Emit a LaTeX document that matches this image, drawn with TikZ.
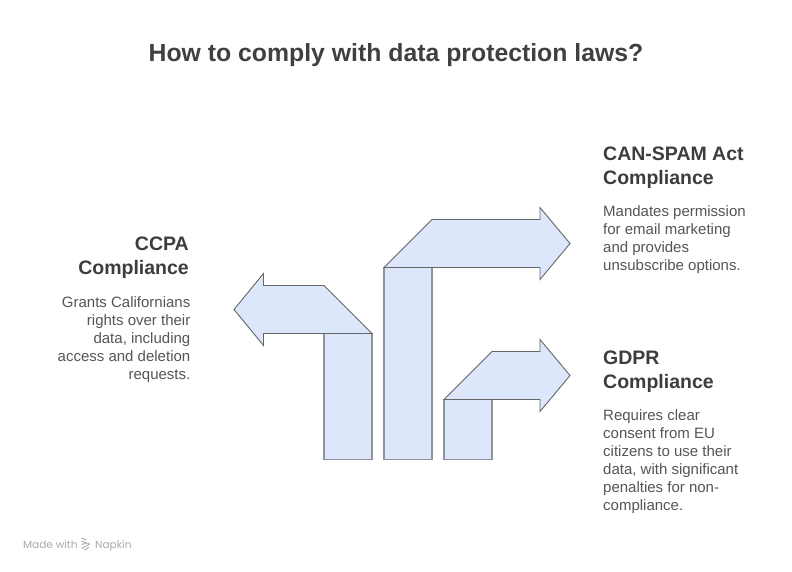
\documentclass[tikz,border=0pt]{standalone}
\usepackage{fontspec}
\setmainfont{Liberation Sans}
\newfontfamily\footfont{Poppins}
\definecolor{boxfill}{HTML}{DCE7FB}
\definecolor{arrowline}{HTML}{666666}
\definecolor{stemline}{HTML}{8E939C}
\definecolor{titlecol}{HTML}{404040}
\definecolor{headcol}{HTML}{3D3D3D}
\definecolor{bodycol}{HTML}{555555}
\definecolor{footcol}{HTML}{AAAAAA}
\begin{document}
\begin{tikzpicture}[x=1pt,y=-1pt,
  stembox/.style={fill=boxfill,draw=stemline,line width=1.4pt,line join=miter},
  arrowshape/.style={fill=boxfill,draw=arrowline,line width=0.9pt,line join=miter},
  titletext/.style={inner sep=0pt,text=titlecol,font=\bfseries\fontsize{24.8}{30}\selectfont},
  headtext/.style={inner sep=0pt,text=headcol,font=\bfseries\fontsize{19.5}{24}\selectfont},
  bodytext/.style={inner sep=0pt,text=bodycol,font=\fontsize{15}{18}\selectfont},
  foottext/.style={inner sep=0pt,text=footcol,font=\footfont\fontsize{10.5}{12}\selectfont}]
\useasboundingbox[fill=white] (0,0) rectangle (792,572);

% title
\node[titletext,anchor=base] (title) at (396,62) {How to comply with data protection laws?};

% stems
\draw[stembox] (324,333.5) rectangle (372,459.5);
\draw[stembox] (384,267.5) rectangle (432,459.5);
\draw[stembox] (444,399.5) rectangle (492,459.5);

% arrows
\draw[arrowshape] (372,333.5) -- (324,285.5) -- (263.5,285.5) -- (263.5,273.5) -- (234,309.5) -- (263.5,345.5) -- (263.5,333.5) -- cycle;
\draw[arrowshape] (384,267.5) -- (432,219.5) -- (540,219.5) -- (540,207.5) -- (570,243.5) -- (540,279.5) -- (540,267.5) -- cycle;
\draw[arrowshape] (444,399.5) -- (492,351.5) -- (540,351.5) -- (540,339.5) -- (570,375.5) -- (540,411.5) -- (540,399.5) -- cycle;

% CAN-SPAM
\node[headtext,anchor=base west] (spamhead) at (603,161)
  {\begin{tabular}[t]{@{}l@{}}CAN-SPAM Act\\Compliance\end{tabular}};
\node[bodytext,anchor=base west] (spambody) at (603,216.5)
  {\begin{tabular}[t]{@{}l@{}}Mandates permission\\for email marketing\\and provides\\unsubscribe options.\end{tabular}};

% CCPA
\node[headtext,anchor=base east] (ccpahead) at (189,250)
  {\begin{tabular}[t]{@{}r@{}}CCPA\\Compliance\end{tabular}};
\node[bodytext,anchor=base east] (ccpabody) at (190.5,307)
  {\begin{tabular}[t]{@{}r@{}}Grants Californians\\rights over their\\data, including\\access and deletion\\requests.\end{tabular}};

% GDPR
\node[headtext,anchor=base west] (gdprhead) at (603,364)
  {\begin{tabular}[t]{@{}l@{}}GDPR\\Compliance\end{tabular}};
\node[bodytext,anchor=base west] (gdprbody) at (603,420)
  {\begin{tabular}[t]{@{}l@{}}Requires clear\\consent from EU\\citizens to use their\\data, with significant\\penalties for non-\\compliance.\end{tabular}};

% footer
\node[foottext,anchor=base west] (made) at (23,548) {Made with};
\node[foottext,anchor=base west] (napkin) at (95,548) {Napkin};
\draw[footcol,line width=0.9pt,line cap=round,line join=round]
  (81.5,538) -- (86,539.8)
  (81.5,541) -- (89.5,544) -- (82,548.5)
  (84.5,550) -- (88.5,547.5)
  (82,544.5) -- (86,543);
\end{tikzpicture}
\end{document}
